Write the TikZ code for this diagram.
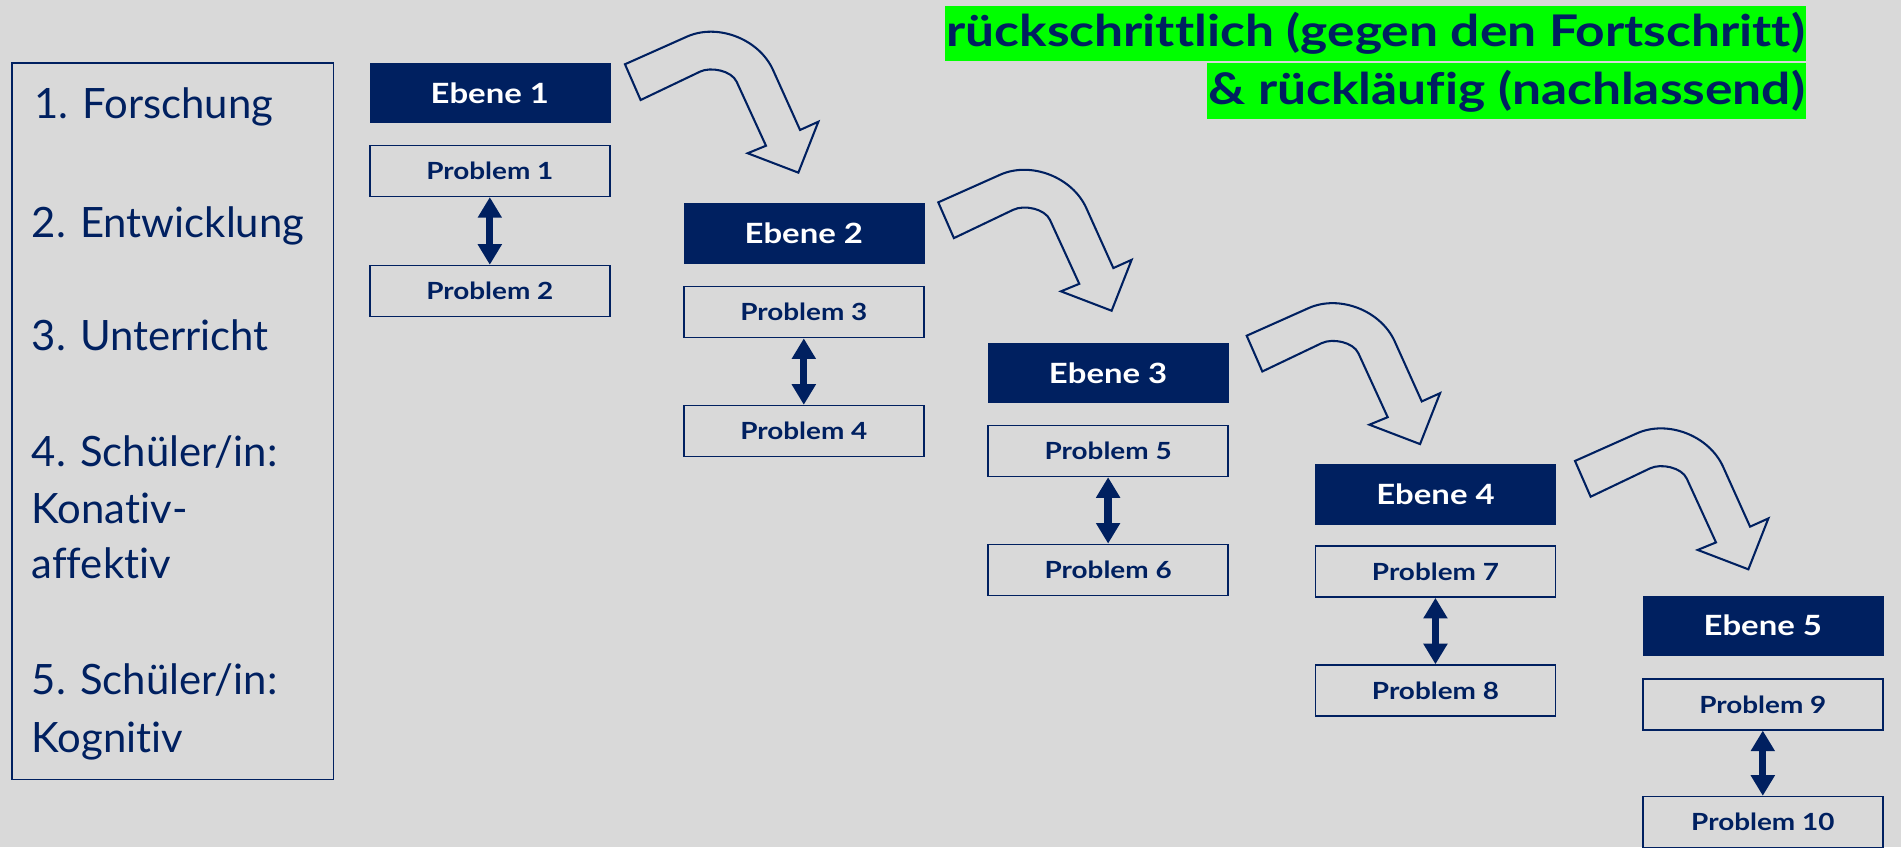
\documentclass[tikz,border=0pt]{standalone}
\usepackage{fontspec}
\setmainfont{Lato}[Ligatures=NoCommon]
\newfontfamily\widesans{Lato}[FakeStretch=1.18, Ligatures=NoCommon]
\usetikzlibrary{arrows.meta}
\definecolor{navy}{RGB}{0,32,96}
\definecolor{paper}{RGB}{217,217,217}
\definecolor{marker}{RGB}{0,255,0}
\begin{document}
\begin{tikzpicture}[x=1pt,y=-1pt,
  levelbox/.style={fill=navy, draw=navy, minimum width=198pt, minimum height=49pt,
    text=white, font=\widesans\fontsize{23}{27}\selectfont\bfseries, inner sep=0pt},
  probbox/.style={draw=navy, line width=1.2pt, fill=paper, minimum width=198pt, minimum height=42pt,
    text=navy, font=\widesans\fontsize{19.5}{23}\selectfont\bfseries, inner sep=0pt},
  dblarrow/.style={draw=navy, line width=6pt,
    {Triangle[length=17pt,width=19pt]}-{Triangle[length=17pt,width=19pt]}},
  listtext/.style={anchor=base west, text=navy, font=\fontsize{34.5}{41}\selectfont, inner sep=0pt},
  marktext/.style={anchor=north east, fill=marker, text=navy, minimum height=45pt,
    inner xsep=1pt, inner ysep=0pt, font=\widesans\fontsize{36}{42}\selectfont\bfseries},
  bentarrow/.pic={
    \draw[navy, line width=1.7pt, fill=paper, line join=miter]
      (0,0) -- (50.9,-22.7)
      .. controls (76.4,-34.2) and (110.6,-20.8) .. (122.1,4.7)
      -- (144.4,54.2) -- (159.5,47.4) -- (143,89.4) -- (101.2,73.4) -- (116.3,67.2)
      -- (92.1,14.4)
      .. controls (87.9,5.3) and (70.9,1.8) .. (61.9,6.1)
      -- (12.9,29.5) -- cycle;
  }]
  % canvas
  \fill[paper] (0,0) rectangle (1568,699);
  \useasboundingbox (0,0) rectangle (1568,699);

  % list of areas
  \node[draw=navy, line width=1.2pt, minimum width=265pt, minimum height=591pt, inner sep=0pt]
    (list) at (142.5,347.5) {};
  \node[listtext] (l1) at (28,98) {1. Forschung};
  \node[listtext] (l2) at (26,196) {2. Entwicklung};
  \node[listtext] (l3) at (26,289) {3. Unterricht};
  \node[listtext] (l4a) at (26,385) {4. Schüler/in:};
  \node[listtext] (l4b) at (26,432) {Konativ-};
  \node[listtext] (l4c) at (26,477) {affektiv};
  \node[listtext] (l5a) at (26,573) {5. Schüler/in:};
  \node[listtext] (l5b) at (26,621) {Kognitiv};

  % headline
  \node[marktext] (h1) at (1490,5) {rückschrittlich (gegen den Fortschritt)};
  \node[marktext, minimum height=46pt] (h2) at (1490,52) {\& rückläufig (nachlassend)};

  % levels and problems
  \node[levelbox] (e1) at (404,76.5) {Ebene 1};
  \node[probbox] (p1) at (404,141) {Problem 1};
  \node[probbox] (p2) at (404,240) {Problem 2};

  \node[levelbox] (e2) at (663,192.5) {Ebene 2};
  \node[probbox] (p3) at (663,257.5) {Problem 3};
  \node[probbox] (p4) at (663,355.5) {Problem 4};

  \node[levelbox] (e3) at (914,307.5) {Ebene 3};
  \node[probbox] (p5) at (914,372) {Problem 5};
  \node[probbox] (p6) at (914,470) {Problem 6};

  \node[levelbox] (e4) at (1184,407.5) {Ebene 4};
  \node[probbox] (p7) at (1184,471.5) {Problem 7};
  \node[probbox] (p8) at (1184,569.5) {Problem 8};

  \node[levelbox] (e5) at (1454,516) {Ebene 5};
  \node[probbox] (p9) at (1454,581) {Problem 9};
  \node[probbox] (p10) at (1454,678) {Problem 10};

  % links between paired problems
  \draw[dblarrow] (p1.south) -- (p2.north);
  \draw[dblarrow] (p3.south) -- (p4.north);
  \draw[dblarrow] (p5.south) -- (p6.north);
  \draw[dblarrow] (p7.south) -- (p8.north);
  \draw[dblarrow] (p9.south) -- (p10.north);

  % step-down arrows
  \pic at (515.5,53) {bentarrow};
  \pic at (773.9,166.9) {bentarrow};
  \pic at (1028.3,276.9) {bentarrow};
  \pic at (1299.1,380.2) {bentarrow};
\end{tikzpicture}
\end{document}
